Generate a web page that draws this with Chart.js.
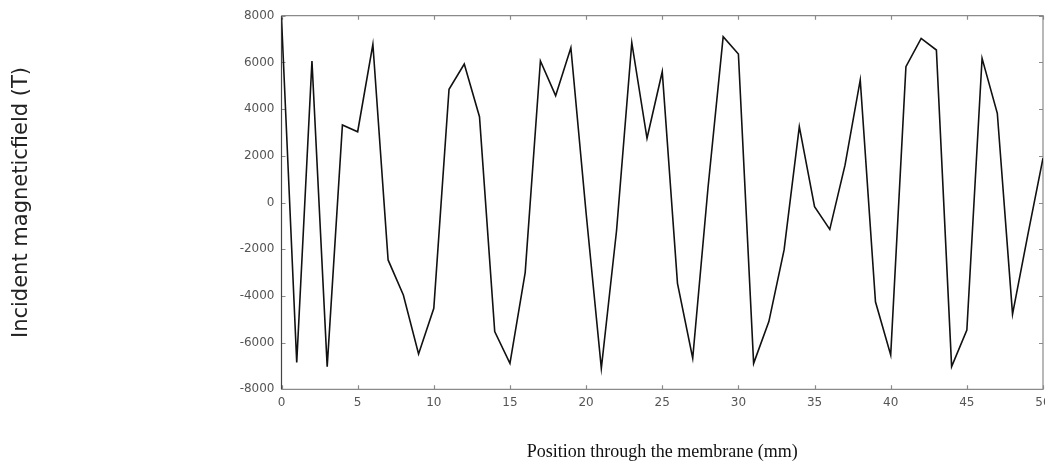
<!DOCTYPE html>
<html>
<head>
<meta charset="utf-8">
<script src="https://cdn.jsdelivr.net/npm/chart.js@4/dist/chart.umd.min.js"></script>
<style>
  html, body { margin: 0; padding: 0; background: #fff; }
  #wrap { width: 1045px; height: 472px; position: relative; }
</style>
</head>
<body>
<div id="wrap"><canvas id="c"></canvas></div>
<script>
// Position through the membrane (mm)
const positions = [0,1,2,3,4,5,6,7,8,9,10,11,12,13,14,15,16,17,18,19,20,21,22,23,24,25,
  26,27,28,29,30,31,32,33,34,35,36,37,38,39,40,41,42,43,44,45,46,47,48,49,50];
// Incident magnetic field (T)
const fieldValues = [7900,-6850,6060,-7030,3320,3030,6775,-2460,-3960,-6490,-4530,4850,5930,
  3675,-5530,-6890,-3000,6060,4575,6630,-450,-7100,-1200,6845,2750,5600,-3460,-6670,600,7100,
  6360,-6890,-5100,-2030,3250,-180,-1150,1600,5250,-4250,-6530,5820,7030,6530,-7030,-5460,
  6175,3820,-4780,-1400,1900];
const xTicks = [0,5,10,15,20,25,30,35,40,45,50];
const yTicks = [-8000,-6000,-4000,-2000,0,2000,4000,6000,8000];

const points = positions.map((x, i) => ({ x: x, y: fieldValues[i] }));

// Frame around the plot area with inward tick marks on all four sides
const framePlugin = {
  id: 'frame',
  beforeDatasetsDraw(chart) {
    const { ctx, chartArea: a, scales: { x, y } } = chart;
    const len = 4;
    ctx.save();
    ctx.lineWidth = 1.2;
    ctx.strokeStyle = '#8a8a8a';
    ctx.beginPath();
    xTicks.forEach(v => {
      const px = Math.round(x.getPixelForValue(v)) + 0.5;
      ctx.moveTo(px, a.bottom); ctx.lineTo(px, a.bottom - len);
      ctx.moveTo(px, a.top); ctx.lineTo(px, a.top + len);
    });
    yTicks.forEach(v => {
      const py = Math.round(y.getPixelForValue(v)) + 0.5;
      ctx.moveTo(a.left, py); ctx.lineTo(a.left + len, py);
      ctx.moveTo(a.right, py); ctx.lineTo(a.right - len, py);
    });
    ctx.stroke();
    ctx.beginPath();
    ctx.moveTo(a.left, a.top); ctx.lineTo(a.right, a.top);
    ctx.lineTo(a.right, a.bottom); ctx.lineTo(a.left, a.bottom);
    ctx.stroke();
    ctx.strokeStyle = '#444';
    ctx.beginPath();
    ctx.moveTo(a.left, a.top); ctx.lineTo(a.left, a.bottom);
    ctx.stroke();
    ctx.restore();
  }
};

const tickFont = { family: 'DejaVu Sans', size: 12 };
const plainNumber = v => String(v);

new Chart(document.getElementById('c'), {
  type: 'line',
  data: {
    datasets: [{
      data: points,
      borderColor: '#111',
      borderWidth: 1.6,
      pointRadius: 0,
      tension: 0,
      fill: false
    }]
  },
  options: {
    responsive: true,
    maintainAspectRatio: false,
    animation: false,
    layout: { padding: { left: 0, top: 15.7, right: 2, bottom: 0 } },
    plugins: { legend: { display: false }, tooltip: { enabled: false } },
    scales: {
      x: {
        type: 'linear',
        min: 0, max: 50,
        afterBuildTicks(scale) { scale.ticks = xTicks.map(v => ({ value: v })); },
        afterFit(scale) { scale.height = 82.7; scale.paddingLeft = 0; scale.paddingRight = 0; },
        grid: { display: false, drawTicks: false },
        border: { display: false },
        ticks: { font: tickFont, color: '#555', padding: 6, maxRotation: 0, autoSkip: false, callback: plainNumber },
        title: {
          display: true,
          text: 'Position through the membrane (mm)',
          font: { family: 'Liberation Serif', size: 18 },
          color: '#111',
          padding: { top: 0, bottom: 9 }
        }
      },
      y: {
        type: 'linear',
        min: -8000, max: 8000,
        afterBuildTicks(scale) { scale.ticks = yTicks.map(v => ({ value: v })); },
        afterFit(scale) { scale.width = 281.5; scale.paddingTop = 0; scale.paddingBottom = 0; },
        grid: { display: false, drawTicks: false },
        border: { display: false },
        ticks: { font: tickFont, color: '#555', padding: 7, autoSkip: false, callback: plainNumber },
        title: {
          display: true,
          text: 'Incident magneticfield (T)',
          font: { family: 'DejaVu Sans', size: 21 },
          color: '#222',
          padding: { top: 9, bottom: 0 }
        }
      }
    }
  },
  plugins: [framePlugin]
});
</script>
</body>
</html>
